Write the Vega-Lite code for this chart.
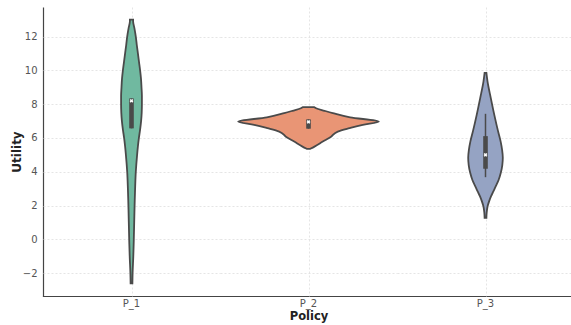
{
  "$schema": "https://vega.github.io/schema/vega-lite/v6.json",
  "padding": {"left": 10, "top": 7, "right": 0, "bottom": 0},
  "background": "white",
  "config": {
    "font": "DejaVu Sans",
    "view": {"stroke": null},
    "facet": {"spacing": 0}
  },
  "data": {
    "values": [
      {"policy": "P_1", "part": "violin", "u": -2.6, "lo": -0.9, "hi": 0.9},
      {"policy": "P_1", "part": "violin", "u": -2.0, "lo": -1.1, "hi": 1.1},
      {"policy": "P_1", "part": "violin", "u": -1.0, "lo": -1.8, "hi": 1.8},
      {"policy": "P_1", "part": "violin", "u": 0.0, "lo": -2.3, "hi": 2.3},
      {"policy": "P_1", "part": "violin", "u": 1.0, "lo": -2.7, "hi": 2.7},
      {"policy": "P_1", "part": "violin", "u": 2.0, "lo": -3.1, "hi": 3.1},
      {"policy": "P_1", "part": "violin", "u": 3.0, "lo": -3.6, "hi": 3.6},
      {"policy": "P_1", "part": "violin", "u": 4.0, "lo": -4.3, "hi": 4.3},
      {"policy": "P_1", "part": "violin", "u": 5.0, "lo": -5.6, "hi": 5.6},
      {"policy": "P_1", "part": "violin", "u": 5.5, "lo": -6.4, "hi": 6.4},
      {"policy": "P_1", "part": "violin", "u": 6.0, "lo": -7.4, "hi": 7.4},
      {"policy": "P_1", "part": "violin", "u": 6.5, "lo": -8.6, "hi": 8.6},
      {"policy": "P_1", "part": "violin", "u": 7.0, "lo": -9.6, "hi": 9.6},
      {"policy": "P_1", "part": "violin", "u": 7.5, "lo": -10.2, "hi": 10.2},
      {"policy": "P_1", "part": "violin", "u": 8.0, "lo": -10.4, "hi": 10.4},
      {"policy": "P_1", "part": "violin", "u": 8.5, "lo": -10.4, "hi": 10.4},
      {"policy": "P_1", "part": "violin", "u": 9.0, "lo": -10.0, "hi": 10.0},
      {"policy": "P_1", "part": "violin", "u": 9.5, "lo": -9.5, "hi": 9.5},
      {"policy": "P_1", "part": "violin", "u": 10.0, "lo": -8.6, "hi": 8.6},
      {"policy": "P_1", "part": "violin", "u": 10.5, "lo": -7.5, "hi": 7.5},
      {"policy": "P_1", "part": "violin", "u": 11.0, "lo": -6.4, "hi": 6.4},
      {"policy": "P_1", "part": "violin", "u": 11.5, "lo": -5.3, "hi": 5.3},
      {"policy": "P_1", "part": "violin", "u": 12.0, "lo": -4.3, "hi": 4.3},
      {"policy": "P_1", "part": "violin", "u": 12.5, "lo": -2.9, "hi": 2.9},
      {"policy": "P_1", "part": "violin", "u": 12.9, "lo": -1.6, "hi": 1.6},
      {"policy": "P_1", "part": "violin", "u": 13.0, "lo": -1.6, "hi": 1.6},

      {"policy": "P_2", "part": "violin", "u": 5.36, "lo": -1.8, "hi": 1.8},
      {"policy": "P_2", "part": "violin", "u": 5.49, "lo": -6.0, "hi": 6.0},
      {"policy": "P_2", "part": "violin", "u": 5.79, "lo": -14.3, "hi": 14.3},
      {"policy": "P_2", "part": "violin", "u": 6.08, "lo": -22.6, "hi": 22.6},
      {"policy": "P_2", "part": "violin", "u": 6.38, "lo": -29.3, "hi": 29.3},
      {"policy": "P_2", "part": "violin", "u": 6.58, "lo": -41.0, "hi": 41.0},
      {"policy": "P_2", "part": "violin", "u": 6.78, "lo": -54.3, "hi": 54.3},
      {"policy": "P_2", "part": "violin", "u": 6.97, "lo": -70.3, "hi": 70.3},
      {"policy": "P_2", "part": "violin", "u": 7.22, "lo": -41.7, "hi": 41.7},
      {"policy": "P_2", "part": "violin", "u": 7.47, "lo": -24.3, "hi": 24.3},
      {"policy": "P_2", "part": "violin", "u": 7.61, "lo": -16.0, "hi": 16.0},
      {"policy": "P_2", "part": "violin", "u": 7.76, "lo": -7.6, "hi": 7.6},
      {"policy": "P_2", "part": "violin", "u": 7.82, "lo": -5.8, "hi": 5.8},

      {"policy": "P_3", "part": "violin", "u": 1.28, "lo": -0.9, "hi": 0.9},
      {"policy": "P_3", "part": "violin", "u": 1.6, "lo": -1.2, "hi": 1.2},
      {"policy": "P_3", "part": "violin", "u": 1.96, "lo": -2.1, "hi": 2.1},
      {"policy": "P_3", "part": "violin", "u": 2.25, "lo": -3.6, "hi": 3.6},
      {"policy": "P_3", "part": "violin", "u": 2.56, "lo": -5.6, "hi": 5.6},
      {"policy": "P_3", "part": "violin", "u": 2.85, "lo": -8.0, "hi": 8.0},
      {"policy": "P_3", "part": "violin", "u": 3.15, "lo": -10.3, "hi": 10.3},
      {"policy": "P_3", "part": "violin", "u": 3.5, "lo": -13.0, "hi": 13.0},
      {"policy": "P_3", "part": "violin", "u": 3.94, "lo": -15.3, "hi": 15.3},
      {"policy": "P_3", "part": "violin", "u": 4.4, "lo": -16.8, "hi": 16.8},
      {"policy": "P_3", "part": "violin", "u": 4.83, "lo": -17.3, "hi": 17.3},
      {"policy": "P_3", "part": "violin", "u": 5.3, "lo": -16.6, "hi": 16.6},
      {"policy": "P_3", "part": "violin", "u": 5.8, "lo": -15.1, "hi": 15.1},
      {"policy": "P_3", "part": "violin", "u": 6.39, "lo": -12.6, "hi": 12.6},
      {"policy": "P_3", "part": "violin", "u": 7.37, "lo": -8.8, "hi": 8.8},
      {"policy": "P_3", "part": "violin", "u": 8.36, "lo": -5.3, "hi": 5.3},
      {"policy": "P_3", "part": "violin", "u": 9.35, "lo": -2.0, "hi": 2.0},
      {"policy": "P_3", "part": "violin", "u": 9.85, "lo": -0.9, "hi": 0.9},

      {"policy": "P_1", "part": "box", "q1": 6.57, "q3": 8.34, "wlo": 6.57, "whi": 8.34, "med": 8.2},
      {"policy": "P_2", "part": "box", "q1": 6.55, "q3": 7.1, "wlo": 6.55, "whi": 7.1, "med": 6.95},
      {"policy": "P_3", "part": "box", "q1": 4.18, "q3": 6.11, "wlo": 3.68, "whi": 7.43, "med": 5.0}
    ]
  },
  "facet": {
    "column": {
      "field": "policy",
      "type": "nominal",
      "header": {
        "title": "Policy",
        "titleOrient": "bottom",
        "labelOrient": "bottom",
        "labelFontSize": 10,
        "labelColor": "#555555",
        "labelPadding": 3,
        "titleFontSize": 11.5,
        "titleFontWeight": "bold",
        "titleColor": "#222222",
        "titlePadding": -8,
        "font": "DejaVu Sans"
      }
    }
  },
  "spec": {
    "width": 177,
    "height": 289,
    "encoding": {
      "y": {
        "type": "quantitative",
        "scale": {"domain": [-3.35, 13.75], "nice": false, "zero": false},
        "axis": {
          "title": "Utility",
          "values": [-2, 0, 2, 4, 6, 8, 10, 12],
          "ticks": false,
          "labelPadding": 6,
          "labelFontSize": 10,
          "labelColor": "#555555",
          "domainColor": "#444444",
          "domainWidth": 1.2,
          "gridColor": "#dedede",
          "gridDash": [2, 2],
          "gridWidth": 0.8,
          "titleFontSize": 12,
          "titleFontWeight": "bold",
          "titleColor": "#222222",
          "titlePadding": -1
        }
      }
    },
    "layer": [
      {
        "transform": [{"filter": "datum.part === 'violin'"}],
        "mark": {"type": "area", "orient": "horizontal", "interpolate": "monotone", "stroke": "#4a4a4a", "strokeWidth": 1.8, "fillOpacity": 1},
        "encoding": {
          "y": {"field": "u", "type": "quantitative"},
          "x": {
            "field": "lo",
            "type": "quantitative",
            "scale": {"domain": [-88.5, 88.5], "nice": false, "zero": false},
            "axis": {
              "title": null,
              "values": [0],
              "labels": false,
              "ticks": false,
              "domain": true,
              "domainColor": "#444444",
              "domainWidth": 1.2,
              "domainCap": "square",
              "grid": true,
              "gridColor": "#dedede",
              "gridDash": [2, 2],
              "gridWidth": 0.8,
              "minExtent": 0,
              "maxExtent": 0
            }
          },
          "x2": {"field": "hi"},
          "color": {
            "field": "policy",
            "type": "nominal",
            "scale": {"domain": ["P_1", "P_2", "P_3"], "range": ["#70b9a0", "#e99575", "#95a3c3"]},
            "legend": null
          }
        }
      },
      {
        "transform": [{"filter": "datum.part === 'box'"}],
        "mark": {"type": "rule", "color": "#4a4a4a", "strokeWidth": 1.5},
        "encoding": {
          "x": {"datum": 0},
          "y": {"field": "wlo", "type": "quantitative"},
          "y2": {"field": "whi"}
        }
      },
      {
        "transform": [{"filter": "datum.part === 'box'"}],
        "mark": {"type": "rule", "color": "#4a4a4a", "strokeWidth": 4.6},
        "encoding": {
          "x": {"datum": 0},
          "y": {"field": "q1", "type": "quantitative"},
          "y2": {"field": "q3"}
        }
      },
      {
        "transform": [{"filter": "datum.part === 'box'"}],
        "mark": {"type": "point", "shape": "cross", "angle": 45, "filled": true, "color": "white", "size": 14, "opacity": 1},
        "encoding": {
          "x": {"datum": 0},
          "y": {"field": "med", "type": "quantitative"}
        }
      }
    ]
  }
}
